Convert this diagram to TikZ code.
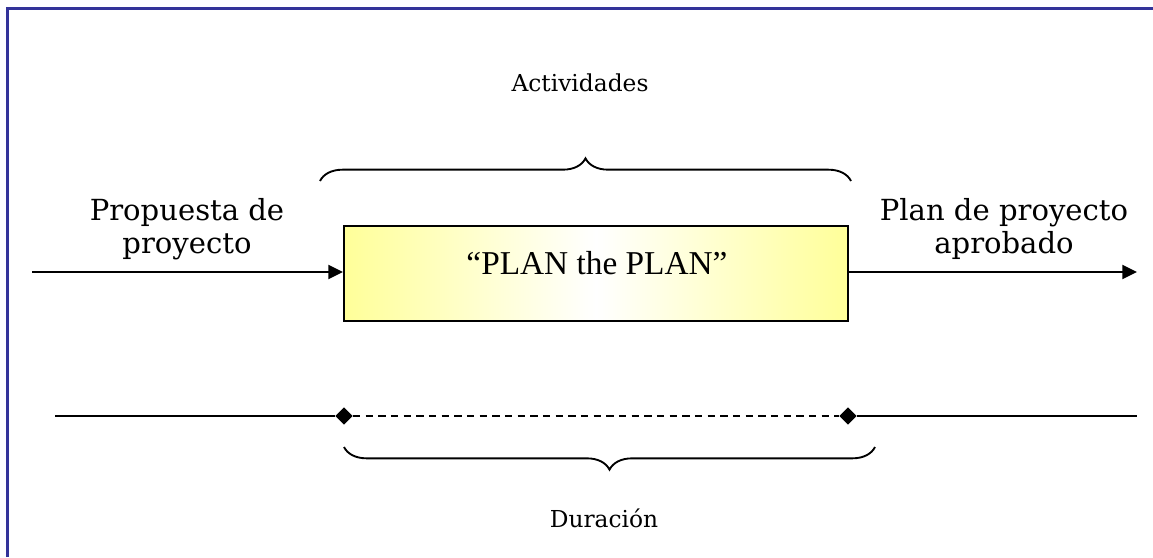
\documentclass[tikz,border=0pt]{standalone}
\usepackage{fontspec}
\setmainfont{DejaVu Serif}
\newfontfamily\boxfont{Liberation Serif}
\usetikzlibrary{arrows.meta,shapes.geometric,decorations.pathreplacing}
\definecolor{framecol}{HTML}{333399}
\definecolor{boxyellow}{HTML}{FFFF99}
\begin{document}
\begin{tikzpicture}[x=0.75pt,y=-0.75pt,
  label/.style={inner sep=0pt,align=center,font=\fontsize{21.8}{24.75}\selectfont},
  smalllabel/.style={inner sep=0pt,font=\fontsize{17.5}{20}\selectfont},
  flow/.style={line width=1.5pt,-{Triangle[length=11pt,width=10.5pt]}},
  planbox/.style={draw=black,line width=1.5pt,minimum width=504*0.75pt,
    minimum height=95*0.75pt,left color=boxyellow,right color=boxyellow,
    middle color=white,inner sep=0pt},
  milestone/.style={diamond,fill=black,inner sep=0pt,minimum size=13pt},
  bracket/.style={decorate,line width=1.4pt,decoration={brace,amplitude=17pt}},
  timeline/.style={line width=1.5pt}]
\useasboundingbox (0,0) rectangle (1153,557);

% frame along the top and left edges
\draw[framecol,line width=2.1pt] (7.5,557) -- (7.5,8.5) -- (1153,8.5);

% activity box
\node[planbox] (plan) at (596,273) {};
\node[inner sep=0pt,font=\boxfont\fontsize{25}{29}\selectfont] (plantext) at (597,263) {“PLAN the PLAN”};

% input and output flows
\coordinate (src) at (32,272);
\coordinate (dst) at (1137,272);
\draw[flow] (src) -- (plan.west |- src);
\draw[flow] (plan.east |- dst) -- (dst);

\node[label] (proposal) at (187,229) {Propuesta de\\proyecto};
\node[label] (approved) at (1004,229) {Plan de proyecto\\aprobado};

% activities brace
\coordinate (ba) at (320,181);
\coordinate (bb) at (851,181);
\draw[bracket] (ba) -- (bb);
\node[smalllabel] (activities) at (580,83) {Actividades};

% timeline with milestones
\coordinate (tl) at (55,416);
\coordinate (tr) at (1137,416);
\node[milestone] (m1) at (344,416) {};
\node[milestone] (m2) at (848,416) {};
\draw[timeline] (tl) -- (m1);
\draw[timeline,dash pattern=on 5.5pt off 4pt] (m1) -- (m2);
\draw[timeline] (m2) -- (tr);

% duration brace
\coordinate (da) at (875,447);
\coordinate (db) at (344,447);
\draw[bracket] (da) -- (db);
\node[smalllabel] (duration) at (604,518) {Duración};
\end{tikzpicture}
\end{document}
